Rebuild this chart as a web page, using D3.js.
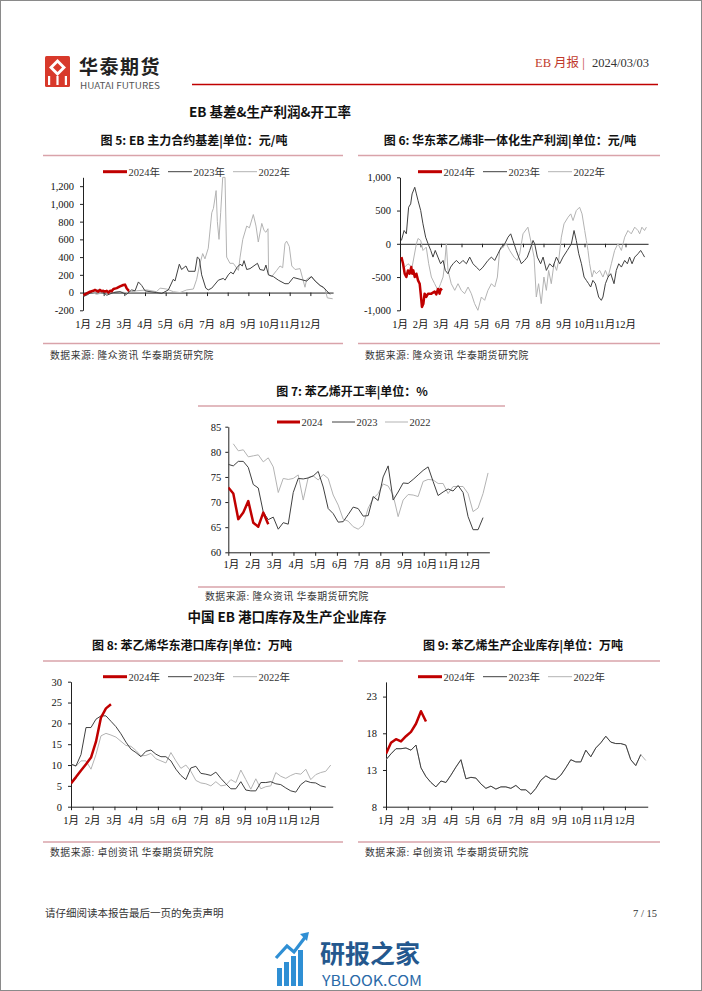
<!DOCTYPE html>
<html><head><meta charset="utf-8">
<script src="https://cdn.jsdelivr.net/npm/d3@7"></script>
<style>
html,body{margin:0;padding:0;background:#fff;}
svg text{font-family:"Noto Sans CJK SC","Noto Sans",sans-serif;}
.num{font-family:"Liberation Serif","Noto Sans CJK SC",serif;}
</style></head>
<body>
<svg id="c" width="702" height="991"></svg>
<script>
// ---------------- DATA ----------------
const months = ["1月","2月","3月","4月","5月","6月","7月","8月","9月","10月","11月","12月"];
const legendYears = ["2024年","2023年","2022年"];
const legendYearsRate = ["2024","2023","2022"];

// Fig 5: EB basis (month position, 元/吨)
const basis2024 = [[0.02,-30],[0.18,-10],[0.34,10],[0.5,20],[0.58,30],[0.66,20],[0.74,10],[0.82,30],[0.9,15],[0.98,20],[1.06,10],[1.15,20],[1.23,0],[1.31,20],[1.39,15],[1.47,40],[1.63,50],[1.79,70],[1.95,85],[2.03,90],[2.11,50],[2.19,25],[2.24,20]];
const basis2023 = [[0.02,-45],[0.26,-20],[0.5,20],[0.82,30],[1.15,-30],[1.47,0],[1.79,10],[2.11,-20],[2.35,30],[2.52,20],[2.68,120],[2.84,80],[3.0,20],[3.24,10],[3.56,0],[3.81,-10],[3.97,10],[4.13,30],[4.37,150],[4.45,130],[4.66,320],[4.77,260],[4.98,300],[5.1,240],[5.42,240],[5.53,400],[5.63,380],[5.74,200],[5.94,50],[6.06,30],[6.23,50],[6.55,140],[6.79,160],[6.87,140],[7.03,200],[7.15,230],[7.27,210],[7.44,280],[7.6,320],[7.71,300],[7.79,360],[7.92,260],[8.08,270],[8.44,330],[8.56,260],[8.76,250],[8.85,310],[8.97,200],[9.21,180],[9.45,140],[9.77,100],[9.94,100],[10.18,170],[10.5,150],[10.82,130],[11.06,180],[11.23,130],[11.47,80],[11.63,60],[11.79,20],[11.95,-20]];
const basis2022 = [[0.02,-30],[0.34,10],[0.66,-20],[0.98,0],[1.31,-10],[1.63,10],[2.11,0],[2.6,20],[3.08,30],[3.56,10],[3.73,50],[4.05,40],[4.37,10],[4.69,0],[5.02,30],[5.34,40],[5.5,150],[5.63,300],[5.79,440],[5.9,380],[6.06,500],[6.23,900],[6.31,950],[6.44,1150],[6.5,800],[6.58,600],[6.66,900],[6.76,1300],[6.87,1300],[6.95,400],[7.11,330],[7.27,330],[7.52,250],[7.6,400],[7.73,600],[7.92,750],[8.05,730],[8.24,880],[8.37,750],[8.48,570],[8.65,780],[8.76,700],[8.85,680],[8.95,720],[8.98,200],[9.13,180],[9.37,250],[9.53,300],[9.66,280],[9.77,550],[9.85,580],[9.98,520],[10.1,300],[10.26,260],[10.5,270],[10.74,60],[10.82,150],[11.02,180],[11.15,150],[11.47,80],[11.71,40],[11.82,-60],[12.08,-70]];
const basisTicks = [-200,0,200,400,600,800,1000,1200];

// Fig 6: non-integrated production profit (month position, 元/吨)
const profit2024 = [[0.07,-200],[0.15,-300],[0.23,-450],[0.31,-500],[0.39,-400],[0.47,-450],[0.55,-350],[0.6,-450],[0.65,-400],[0.72,-500],[0.8,-450],[0.88,-550],[0.96,-600],[1.01,-750],[1.07,-950],[1.14,-900],[1.2,-750],[1.28,-800],[1.37,-750],[1.53,-750],[1.69,-720],[1.77,-760],[1.85,-680],[1.93,-750],[1.98,-680],[2.05,-700]];
const profit2023 = [[0.07,50],[0.2,200],[0.31,150],[0.42,550],[0.52,600],[0.59,750],[0.72,850],[0.8,750],[0.88,650],[1.01,500],[1.12,300],[1.25,100],[1.37,0],[1.5,-100],[1.61,-200],[1.72,-100],[1.85,-200],[1.98,-300],[2.1,-250],[2.21,-400],[2.34,-450],[2.47,-350],[2.59,-300],[2.75,-250],[2.91,-300],[3.07,-250],[3.24,-300],[3.4,-200],[3.56,-300],[3.72,-350],[3.89,-400],[4.05,-350],[4.29,-250],[4.46,-200],[4.62,-250],[4.78,-150],[4.94,-50],[5.11,0],[5.27,100],[5.4,150],[5.51,50],[5.67,-100],[5.79,-200],[5.92,-300],[6.08,-250],[6.21,-200],[6.33,-100],[6.49,50],[6.57,0],[6.7,-200],[6.86,-300],[6.98,-200],[7.14,-400],[7.3,-300],[7.46,-350],[7.63,-200],[7.79,-300],[7.95,-200],[8.16,-100],[8.36,0],[8.49,200],[8.6,50],[8.72,-150],[8.85,-300],[8.98,-500],[9.09,-550],[9.2,-600],[9.3,-650],[9.41,-550],[9.53,-600],[9.69,-800],[9.82,-850],[9.9,-800],[10.02,-600],[10.15,-500],[10.28,-450],[10.44,-600],[10.55,-400],[10.67,-300],[10.8,-350],[10.96,-250],[11.09,-300],[11.2,-200],[11.32,-300],[11.45,-200],[11.61,-150],[11.74,-100],[11.84,-150],[11.93,-200]];
const profit2022 = [[0.23,-350],[0.39,-300],[0.59,-350],[0.8,0],[0.88,80],[1.01,50],[1.12,-100],[1.28,-50],[1.4,-300],[1.53,-500],[1.69,-600],[1.85,-700],[1.98,-600],[2.1,-500],[2.18,-300],[2.26,0],[2.34,-400],[2.5,-600],[2.67,-700],[2.83,-600],[2.99,-700],[3.15,-750],[3.32,-650],[3.48,-750],[3.64,-900],[3.8,-1000],[3.97,-800],[4.13,-850],[4.29,-700],[4.46,-600],[4.62,-650],[4.75,-500],[4.86,-100],[5.02,-50],[5.19,0],[5.35,-100],[5.56,-200],[5.72,-250],[5.84,-150],[6.0,150],[6.24,250],[6.41,0],[6.54,-200],[6.65,-800],[6.76,-600],[6.89,-900],[7.02,-500],[7.14,-700],[7.25,-400],[7.38,-600],[7.51,-300],[7.64,-400],[7.74,-250],[7.87,100],[8.0,300],[8.2,400],[8.33,450],[8.44,350],[8.6,500],[8.76,550],[8.88,450],[9.01,200],[9.09,50],[9.17,-100],[9.25,-300],[9.37,-500],[9.46,-400],[9.58,-450],[9.74,-400],[9.9,-500],[10.02,-400],[10.15,-500],[10.31,-300],[10.47,-100],[10.63,0],[10.8,-100],[10.96,100],[11.12,200],[11.28,150],[11.45,250],[11.61,200],[11.69,150],[11.8,250],[11.93,200],[12.02,250]];
const profitTicks = [-1000,-500,0,500,1000];

// Fig 7: styrene operating rate, weekly (%)
const rate2024 = [72.9,71.7,66.6,67.9,70.2,65.9,65.1,67.9,65.6];
const rate2023 = [77.5,77.2,78.1,78.1,76.9,73.5,72.8,68.0,66.5,67.0,64.6,65.9,65.6,71.9,74.7,74.6,74.8,75.2,76.1,73.0,68.7,67.7,66.0,66.1,67.5,69.0,68.7,67.2,67.3,71.1,70.3,75.0,77.2,70.4,72.0,73.8,73.7,74.5,75.4,76.3,77.0,74.1,71.3,72.0,72.6,72.2,73.3,71.9,67.1,64.5,64.5,66.9];
const rate2022 = [null,81.6,80.2,80.4,79.0,79.2,79.4,78.0,78.8,77.0,71.9,74.7,74.5,74.7,75.4,70.4,74.9,75.2,74.4,75.5,74.7,71.4,69.4,66.6,66.2,65.1,64.6,65.4,68.8,70.7,71.7,73.6,73.2,71.4,67.1,70.4,71.5,71.4,71.1,74.1,74.5,74.4,73.7,73.7,71.7,73.1,73.1,73.1,71.7,68.1,68.8,71.7,75.8];
const rateTicks = [60,65,70,75,80,85];

// Fig 8: East China port inventory, weekly (万吨)
const port2024 = [5.6,7.1,8.7,10.2,11.8,15.6,21.4,23.6,24.6];
const port2023 = [10.2,9.8,12.5,19.0,19.0,21.0,21.8,21.8,20.5,19.2,17.5,15.5,13.8,13.0,12.0,13.3,13.6,12.6,12.0,12.0,11.0,9.0,7.5,6.5,9.3,9.7,8.0,7.8,7.5,8.3,6.8,5.5,4.3,4.3,6.0,4.0,3.8,3.8,5.8,5.8,6.0,5.5,5.3,4.5,3.8,3.5,5.3,6.2,5.8,5.7,5.0,4.7];
const port2022 = [10.2,9.7,11.0,11.0,9.0,12.5,17.0,17.6,17.2,16.7,15.7,14.7,14.5,13.5,12.2,12.3,12.8,11.5,11.0,10.5,13.0,11.0,9.2,10.0,8.5,6.3,5.7,5.5,5.0,6.0,5.0,5.2,6.5,5.8,8.8,6.5,4.2,6.7,4.3,4.8,5.0,8.2,7.3,6.8,7.5,8.0,7.8,9.0,6.5,7.7,8.2,8.5,10.0];
const portTicks = [0,5,10,15,20,25,30];

// Fig 9: producer inventory, weekly (万吨)
const prod2024 = [15.2,16.7,17.2,16.9,17.6,18.2,19.3,21.0,19.6];
const prod2023 = [14.4,15.2,15.9,15.9,16.0,15.7,16.4,13.3,12.1,11.3,10.7,11.5,11.3,12.3,13.4,14.4,11.8,12.0,11.9,11.1,10.5,10.8,10.4,10.7,10.7,10.5,10.9,10.3,10.3,9.7,10.5,11.6,12.2,11.8,11.7,12.3,13.3,14.4,14.1,14.1,15.7,14.8,16.0,16.7,17.6,16.8,16.6,16.6,16.4,14.4,13.6,15.1];
const prod2022 = [14.4,15.2,15.9,15.9,16.0,15.7,16.4,13.3,12.1,11.3,10.7,11.5,11.3,12.3,13.4,14.4,11.8,12.0,11.9,11.1,10.5,10.8,10.4,10.7,10.7,10.5,10.9,10.3,10.3,9.7,10.5,11.6,12.2,11.8,11.7,12.3,13.3,14.4,14.1,14.1,15.7,14.8,16.0,16.7,17.6,16.8,16.6,16.6,16.4,14.4,13.6,15.1,14.3];
const prodTicks = [8,13,18,23];

// ---------------- DRAW ----------------
const svg = d3.select("#c");
const RED = "#c00000", DARK = "#404040", LIGHT = "#b3b3b3", PINK = "#d9a3aa";
const weekToMonth = w => w * 7 / 30.4375;
const fmtNum = d => d3.format(",")(d).replace("\u2212", "-");

// page border
svg.append("rect").attr("x",0.5).attr("y",0.5).attr("width",701).attr("height",990)
  .attr("fill","none").attr("stroke","#8a8a8a").attr("stroke-width",1);

// header logo
const logo = svg.append("g");
logo.append("rect").attr("x",45).attr("y",56).attr("width",25).attr("height",31).attr("rx",1.5).attr("fill","#d8392b");
logo.append("path").attr("d","M57.5,59 L66,67.5 L57.5,76 L49,67.5 Z").attr("fill","#fff");
logo.append("path").attr("d","M57.5,63 L62,67.5 L57.5,72 L53,67.5 Z").attr("fill","#d8392b");
logo.append("rect").attr("x",48).attr("y",76).attr("width",2.2).attr("height",9).attr("fill","#fff");
logo.append("rect").attr("x",56.4).attr("y",76).attr("width",2.2).attr("height",9).attr("fill","#fff");
logo.append("rect").attr("x",64.8).attr("y",76).attr("width",2.2).attr("height",9).attr("fill","#fff");
svg.append("text").attr("x",79).attr("y",74).attr("font-size",19).attr("font-weight","bold")
  .attr("fill","#222").attr("letter-spacing",1.5).text("华泰期货");
svg.append("text").attr("x",80).attr("y",88.5).attr("font-size",8.3).attr("fill","#555")
  .attr("textLength",80).attr("lengthAdjust","spacingAndGlyphs").text("HUATAI FUTURES");
const hdr = svg.append("text").attr("class","num").attr("x",535).attr("y",67).attr("font-size",12.5);
hdr.append("tspan").attr("fill","#c0392b").text("EB 月报 | ");
hdr.append("tspan").attr("fill","#333").attr("x",592).text("2024/03/03");
svg.append("line").attr("x1",192).attr("x2",658).attr("y1",84.5).attr("y2",84.5)
  .attr("stroke",RED).attr("stroke-width",1.6);

// section titles
svg.append("text").attr("x",270).attr("y",117).attr("text-anchor","middle").attr("font-size",13.5)
  .attr("font-weight","bold").attr("fill","#111").text("EB 基差&生产利润&开工率");
svg.append("text").attr("x",287).attr("y",622).attr("text-anchor","middle").attr("font-size",13.5)
  .attr("font-weight","bold").attr("fill","#111").text("中国 EB 港口库存及生产企业库存");

function frame(o){
  svg.append("text").attr("x",o.tx).attr("y",o.ty).attr("text-anchor","middle").attr("font-size",12)
    .attr("font-weight","bold").attr("fill","#111").text(o.title);
  svg.append("line").attr("x1",o.lx1).attr("x2",o.lx2).attr("y1",o.ly1).attr("y2",o.ly1).attr("stroke",PINK).attr("stroke-width",1.4);
  svg.append("line").attr("x1",o.lx1).attr("x2",o.lx2).attr("y1",o.ly2).attr("y2",o.ly2).attr("stroke",PINK).attr("stroke-width",1.4);
  svg.append("text").attr("x",o.sx).attr("y",o.sy).attr("font-size",9.8).attr("letter-spacing",0.55)
    .attr("fill","#333").text(o.source);
}

function chart(o){
  const x = d3.scaleLinear().domain([0,o.dEnd]).range([o.x0, o.x0 + o.dEnd*o.mw]);
  const y = d3.scaleLinear().domain(o.dom).range([o.yb, o.yt]);
  const g = svg.append("g");
  const clipId = "clip" + Math.round(o.x0);
  g.append("clipPath").attr("id",clipId).append("rect")
    .attr("x",o.x0).attr("y",o.yt-1).attr("width",o.dEnd*o.mw+6).attr("height",o.yb-o.yt+2);

  // y axis
  const ya = g.append("g").attr("transform",`translate(${o.x0},0)`)
    .call(d3.axisLeft(y).tickValues(o.ticks).tickSize(3).tickSizeOuter(0).tickPadding(o.pad).tickFormat(o.fmt));
  ya.select(".domain").attr("stroke","#222");
  ya.selectAll(".tick line").attr("stroke","#222");
  ya.selectAll(".tick text").attr("class","num").attr("font-size",10.5).attr("fill","#111")
    .style("font-family","'Liberation Serif',serif");

  // x axis
  const xa = g.append("g").attr("transform",`translate(0,${y(o.xAt)})`)
    .call(d3.axisBottom(x).tickValues(d3.range(0,12)).tickSize(3.5).tickSizeOuter(0).tickFormat(""));
  xa.select(".domain").attr("stroke","#222");
  xa.selectAll(".tick line").attr("stroke","#222");

  // month labels
  g.selectAll("text.mlab").data(months).join("text").attr("class","mlab num")
    .attr("x",(d,i)=>x(i)+(o.ldx||0)).attr("y",o.labelY).attr("text-anchor","middle")
    .attr("font-size",10.5).attr("fill","#111")
    .style("font-family","'Liberation Serif','Noto Sans CJK SC',serif").text(d=>d);

  // series
  const plot = g.append("g").attr("clip-path",`url(#${clipId})`);
  o.series.forEach(s=>{
    const line = d3.line().defined(d=>d[1]!=null).x(d=>x(d[0])).y(d=>y(d[1]));
    plot.append("path").datum(s.data).attr("fill","none").attr("stroke",s.color)
      .attr("stroke-width",s.w).attr("stroke-linejoin","round").attr("d",line);
  });

  // legend
  o.legend.forEach((L,i)=>{
    const s = o.series[o.series.length-1-i];
    g.append("line").attr("x1",L[0]).attr("x2",L[0]+o.legLen).attr("y1",o.legY).attr("y2",o.legY)
      .attr("stroke",s.color).attr("stroke-width",s.w===2.5?3:1);
    g.append("text").attr("x",L[0]+o.legLen+1.5).attr("y",o.legY+3.8).attr("font-size",10.5).attr("fill","#333")
      .style("font-family","'Liberation Serif','Noto Sans CJK SC',serif").text(o.legendNames[i]);
  });
}

const weekly = arr => arr.map((v,i)=>[weekToMonth(i), v]);

// Fig 5
frame({title:"图 5: EB 主力合约基差|单位：元/吨", tx:194, ty:145, lx1:43, lx2:343, ly1:155.5, ly2:343.5,
  sx:50, sy:358.5, source:"数据来源: 隆众资讯 华泰期货研究院"});
chart({x0:83, mw:20.67, dEnd:12.1, dom:[-200,1300], yt:177.3, yb:310.3, ticks:basisTicks, fmt:fmtNum, pad:6,
  xAt:0, labelY:327.5, legY:171.7, legLen:24, legend:[[103],[168],[233]], legendNames:legendYears,
  series:[{data:basis2022,color:LIGHT,w:1},{data:basis2023,color:DARK,w:1},{data:basis2024,color:RED,w:2.5}]});

// Fig 6
frame({title:"图 6: 华东苯乙烯非一体化生产利润|单位：元/吨", tx:510, ty:145, lx1:358, lx2:660, ly1:155.5, ly2:343.5,
  sx:365, sy:358.5, source:"数据来源: 隆众资讯 华泰期货研究院"});
chart({x0:400, mw:20.5, dEnd:12.1, dom:[-1000,1000], yt:177.3, yb:310.3, ticks:profitTicks, fmt:fmtNum, pad:6,
  xAt:0, labelY:327.5, legY:171.7, legLen:24, legend:[[418],[483],[548]], legendNames:legendYears,
  series:[{data:profit2022,color:LIGHT,w:1},{data:profit2023,color:DARK,w:1},{data:profit2024,color:RED,w:2.5}]});

// Fig 7
frame({title:"图 7: 苯乙烯开工率|单位：%", tx:352, ty:396, lx1:198, lx2:505, ly1:406, ly2:587,
  sx:205, sy:599.5, source:"数据来源: 隆众资讯 华泰期货研究院"});
chart({x0:228.3, mw:21.72, dEnd:12.02, dom:[60,85], yt:426.7, yb:552.3, ticks:rateTicks, fmt:d=>d, pad:4,
  xAt:60, labelY:567.5, ldx:3, legY:422, legLen:23, legend:[[277],[332],[385]], legendNames:legendYearsRate,
  series:[{data:weekly(rate2022),color:LIGHT,w:1},{data:weekly(rate2023),color:DARK,w:1},{data:weekly(rate2024),color:RED,w:2.5}]});

// Fig 8
frame({title:"图 8: 苯乙烯华东港口库存|单位：万吨", tx:192, ty:650, lx1:43, lx2:343, ly1:661, ly2:842,
  sx:50, sy:855.5, source:"数据来源: 卓创资讯 华泰期货研究院"});
chart({x0:71, mw:21.72, dEnd:12.05, dom:[0,30], yt:681.7, yb:806.7, ticks:portTicks, fmt:d=>d, pad:6,
  xAt:0, labelY:823.5, legY:676.7, legLen:24, legend:[[103],[168],[233]], legendNames:legendYears,
  series:[{data:weekly(port2022),color:LIGHT,w:1},{data:weekly(port2023),color:DARK,w:1},{data:weekly(port2024),color:RED,w:2.5}]});

// Fig 9
frame({title:"图 9: 苯乙烯生产企业库存|单位：万吨", tx:523, ty:650, lx1:358, lx2:660, ly1:661, ly2:842,
  sx:365, sy:855.5, source:"数据来源: 卓创资讯 华泰期货研究院"});
chart({x0:386, mw:21.72, dEnd:12.05, dom:[8,25], yt:681.9, yb:806.7, ticks:prodTicks, fmt:d=>d, pad:6,
  xAt:8, labelY:823.5, legY:676.7, legLen:24, legend:[[418],[483],[548]], legendNames:legendYears,
  series:[{data:weekly(prod2022),color:LIGHT,w:1},{data:weekly(prod2023),color:DARK,w:1},{data:weekly(prod2024),color:RED,w:2.5}]});

// footer
svg.append("text").attr("x",45).attr("y",917).attr("font-size",10.5).attr("fill","#333").text("请仔细阅读本报告最后一页的免责声明");
svg.append("text").attr("class","num").attr("x",657).attr("y",917).attr("text-anchor","end").attr("font-size",10.5)
  .attr("fill","#333").style("font-family","'Liberation Serif',serif").text("7 / 15");

// watermark
const wm = svg.append("g");
const bx = [277,284,291,298], bh = [18,24,30,36];
bx.forEach((v,i)=> wm.append("rect").attr("x",v).attr("y",986-bh[i]).attr("width",5).attr("height",bh[i]).attr("fill","#2f8fd4"));
wm.append("path").attr("d","M276,958 L287,946 L294,952 L306,936").attr("fill","none").attr("stroke","#2f8fd4").attr("stroke-width",3.2);
wm.append("path").attr("d","M300,934 L309,932 L307,941 Z").attr("fill","#2f8fd4");
svg.append("text").attr("x",320).attr("y",963).attr("font-size",25).attr("font-weight","bold").attr("fill","#24588e").text("研报之家");
svg.append("text").attr("x",322).attr("y",986).attr("font-size",14).attr("fill","#2a6aa8")
  .attr("textLength",100).attr("lengthAdjust","spacingAndGlyphs").text("YBLOOK.COM");
</script>
</body></html>
